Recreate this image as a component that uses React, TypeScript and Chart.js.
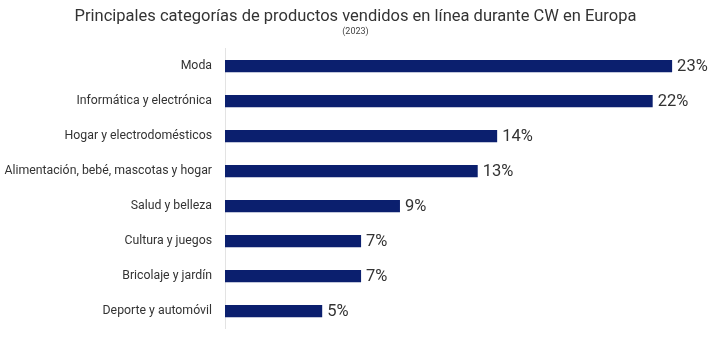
import React, { useEffect, useRef } from "react";
import { Chart, registerables } from "chart.js";

Chart.register(...registerables);

const categories = [
  "Moda",
  "Informática y electrónica",
  "Hogar y electrodomésticos",
  "Alimentación, bebé, mascotas y hogar",
  "Salud y belleza",
  "Cultura y juegos",
  "Bricolaje y jardín",
  "Deporte y automóvil",
];
const values = [23, 22, 14, 13, 9, 7, 7, 5];
const titleText = "Principales categorías de productos vendidos en línea durante CW en Europa";
const subtitleText = "(2023)";

const FONT = "Roboto, 'Noto Sans', sans-serif";

const valueLabels = {
  id: "valueLabels",
  afterDatasetsDraw(chart: any) {
    const ctx = chart.ctx;
    const meta = chart.getDatasetMeta(0);
    ctx.save();
    ctx.font = `16.5px ${FONT}`;
    ctx.fillStyle = "#333333";
    ctx.textAlign = "left";
    ctx.textBaseline = "middle";
    meta.data.forEach((bar: any, i: number) => {
      ctx.fillText(values[i] + "%", bar.x + 5, bar.y + 1);
    });
    ctx.restore();
  },
};

export default function App() {
  const ref = useRef<HTMLCanvasElement | null>(null);
  useEffect(() => {
    if (!ref.current) return;
    const chart = new Chart(ref.current, {
      type: "bar",
      data: {
        labels: categories,
        datasets: [
          {
            data: values,
            backgroundColor: "#0b1f6e",
            borderWidth: 0,
            barPercentage: 0.7,
            categoryPercentage: 0.5,
          },
        ],
      },
      options: {
        indexAxis: "y",
        animation: false,
        responsive: false,
        maintainAspectRatio: false,
        layout: { padding: { left: 0, right: 9, top: 0, bottom: 9.4 } },
        plugins: {
          legend: { display: false },
          tooltip: { enabled: false },
          title: {
            display: true,
            text: titleText,
            color: "#333333",
            font: { family: FONT, size: 16.5, weight: "normal" },
            padding: { top: 7, bottom: 0 },
          },
          subtitle: {
            display: true,
            text: subtitleText,
            color: "#444444",
            font: { family: FONT, size: 9, weight: "normal" },
            padding: { top: 0, bottom: 11 },
          },
        },
        scales: {
          x: {
            display: false,
            min: 0,
            max: 25,
          },
          y: {
            afterFit: (scale: any) => {
              scale.width = 225;
              scale.paddingTop = 0;
              scale.paddingBottom = 0;
            },
            grid: { display: false },
            border: { display: true, color: "#e3e3e3", width: 1 },
            ticks: {
              color: "#333333",
              padding: 5,
              font: { family: FONT, size: 12.3 },
            },
          },
        },
      },
      plugins: [valueLabels],
    });
    return () => chart.destroy();
  }, []);
  return (
    <div style={{ position: "fixed", left: 0, top: 0, width: 720, height: 338, background: "#fff" }}>
      <canvas ref={ref} width={720} height={338} />
    </div>
  );
}
